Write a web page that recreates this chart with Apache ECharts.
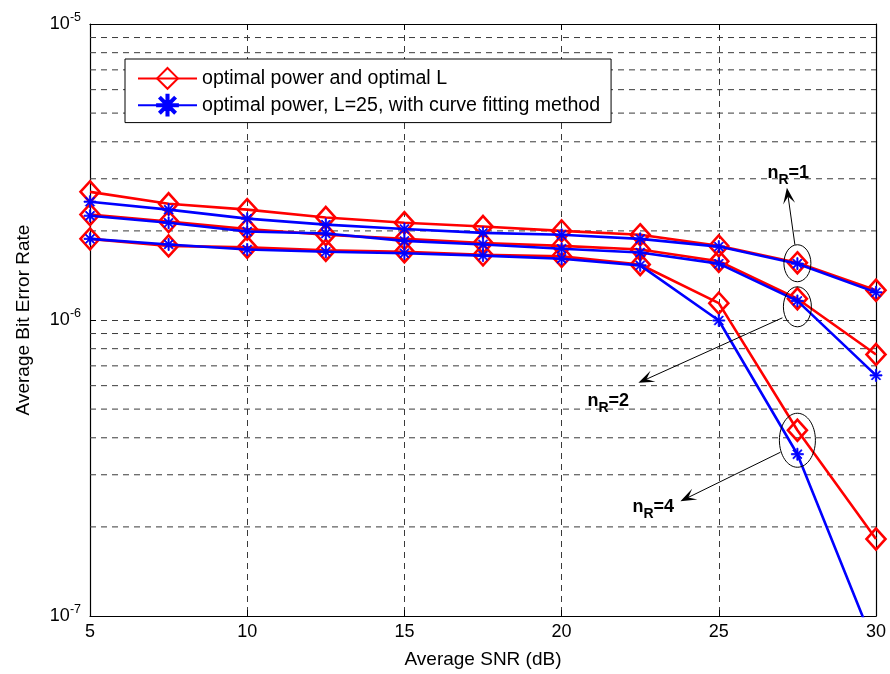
<!DOCTYPE html>
<html><head><meta charset="utf-8">
<script src="https://cdn.jsdelivr.net/npm/echarts@6/dist/echarts.min.js"></script>
<style>html,body{margin:0;padding:0;background:#fff}#c{width:890px;height:674px}</style>
</head><body><div id="c"></div>
<script>
// ---- data ----
const snr = [5, 7.5, 10, 12.5, 15, 17.5, 20, 22.5, 25, 27.5, 30];
const redN1  = [2.71e-6, 2.47e-6, 2.36e-6, 2.22e-6, 2.13e-6, 2.07e-6, 2.00e-6, 1.94e-6, 1.78e-6, 1.56e-6, 1.26e-6];
const blueN1 = [2.51e-6, 2.36e-6, 2.20e-6, 2.10e-6, 2.03e-6, 1.97e-6, 1.94e-6, 1.88e-6, 1.77e-6, 1.55e-6, 1.24e-6];
const redN2  = [2.27e-6, 2.15e-6, 2.03e-6, 1.94e-6, 1.88e-6, 1.82e-6, 1.78e-6, 1.73e-6, 1.58e-6, 1.18e-6, 7.65e-7];
const blueN2 = [2.25e-6, 2.13e-6, 1.99e-6, 1.96e-6, 1.85e-6, 1.80e-6, 1.74e-6, 1.69e-6, 1.55e-6, 1.16e-6, 6.50e-7];
const redN4  = [1.88e-6, 1.78e-6, 1.76e-6, 1.72e-6, 1.70e-6, 1.66e-6, 1.64e-6, 1.54e-6, 1.14e-6, 4.24e-7, 1.82e-7];
const blueN4 = [1.88e-6, 1.80e-6, 1.73e-6, 1.70e-6, 1.68e-6, 1.65e-6, 1.61e-6, 1.53e-6, 9.96e-7, 3.52e-7, 7.7e-8];
const yMinorGrid = [2e-7,3e-7,4e-7,5e-7,6e-7,7e-7,8e-7,9e-7,2e-6,3e-6,4e-6,5e-6,6e-6,7e-6,8e-6,9e-6];
const xRange = [5, 30];
const nameRed = 'optimal power and optimal L';
const nameBlue = 'optimal power, L=25, with curve fitting method';
const nrLabels = ['1', '2', '4'];

// ---- chart ----
const FONT = 'Liberation Sans, Arial, Helvetica, sans-serif';
const chart = echarts.init(document.getElementById('c'), null, {renderer: 'canvas'});
const pairs = arr => snr.map((x, i) => [x, arr[i]]);
const asterisk = 'path://M9 0L11 0L11 20L9 20Z M0 9L20 9L20 11L0 11Z M3.6 2.2L17.8 16.4L16.4 17.8L2.2 3.6Z M16.4 2.2L17.8 3.6L3.6 17.8L2.2 16.4Z';
const gridDash = {type: [6, 5], color: '#3a3a3a', width: 1};

function redSeries(arr) {
  return {
    name: nameRed, type: 'line', data: pairs(arr), clip: true,
    symbol: 'diamond', symbolSize: [19, 21],
    lineStyle: {color: '#ff0000', width: 2.6},
    itemStyle: {color: 'rgba(255,0,0,0)', borderColor: '#ff0000', borderWidth: 2.6},
    emphasis: {disabled: true}, z: 3
  };
}
function blueSeries(arr) {
  return {
    name: nameBlue, type: 'line', data: pairs(arr), clip: true,
    symbol: asterisk, symbolSize: 12,
    lineStyle: {color: '#0000ff', width: 2.6},
    itemStyle: {color: '#0000ff', borderColor: '#0000ff', borderWidth: 0.8},
    emphasis: {disabled: true}, z: 4
  };
}
const minorGridSeries = yMinorGrid.map(v => ({
  name: 'minor-grid', type: 'line', silent: true, symbol: 'none', z: 1,
  data: xRange.map(x => [x, v]), lineStyle: gridDash, emphasis: {disabled: true}, tooltip: {show: false}
}));
const supLabel = v => {
  const e = Math.round(Math.log10(v));
  return '{b|10}{s|' + e + '}';
};

const option = {
  animation: false,
  backgroundColor: '#fff',
  grid: {left: 90, right: 14, top: 24, bottom: 57, containLabel: false},
  legend: {
    data: [nameRed, nameBlue], orient: 'vertical', left: 125, top: 59,
    backgroundColor: '#fff', borderColor: '#000', borderWidth: 1,
    padding: [8, 11, 6, 12], itemWidth: 59, itemHeight: 26, itemGap: 4,
    textStyle: {fontSize: 19.6, fontFamily: FONT, color: '#000'},
    selectedMode: false, z: 10
  },
  xAxis: [{
    type: 'value', min: xRange[0], max: xRange[1], interval: 5,
    name: 'Average SNR (dB)', nameLocation: 'middle', nameGap: 34,
    nameTextStyle: {fontSize: 19, fontFamily: FONT, color: '#000'},
    axisLine: {lineStyle: {color: '#000', width: 1.2}},
    axisTick: {inside: true, length: 6, lineStyle: {color: '#000'}},
    axisLabel: {fontSize: 18, fontFamily: FONT, color: '#000', margin: 7},
    splitLine: {show: true, lineStyle: gridDash}
  }, {
    type: 'value', min: xRange[0], max: xRange[1], interval: 5, position: 'top',
    axisLine: {show: true, lineStyle: {color: '#000', width: 1.2}},
    axisTick: {inside: true, length: 6, lineStyle: {color: '#000'}},
    axisLabel: {show: false}, splitLine: {show: false}
  }],
  yAxis: [{
    type: 'log', logBase: 10, min: 1e-7, max: 1e-5,
    name: 'Average Bit Error Rate', nameLocation: 'middle', nameGap: 57,
    nameTextStyle: {fontSize: 19, fontFamily: FONT, color: '#000'},
    axisLine: {show: true, lineStyle: {color: '#000', width: 1.2}},
    axisTick: {inside: true, length: 6, lineStyle: {color: '#000'}},
    axisLabel: {
      formatter: supLabel, margin: 9,
      rich: {
        b: {fontSize: 18, fontFamily: FONT, color: '#000'},
        s: {fontSize: 12.5, fontFamily: FONT, color: '#000', padding: [0, 0, 12, 0]}
      }
    },
    splitLine: {show: true, lineStyle: gridDash}
  }, {
    type: 'log', logBase: 10, min: 1e-7, max: 1e-5, position: 'right',
    axisLine: {show: true, lineStyle: {color: '#000', width: 1.2}},
    axisTick: {inside: true, length: 6, lineStyle: {color: '#000'}},
    axisLabel: {show: false}, splitLine: {show: false}
  }],
  series: minorGridSeries.concat([
    redSeries(redN1), redSeries(redN2), redSeries(redN4),
    blueSeries(blueN1), blueSeries(blueN2), blueSeries(blueN4)
  ])
};
chart.setOption(option);

// ---- annotations (ellipses, arrows, n_R labels), placed from data points ----
const groups = [[redN1, blueN1], [redN2, blueN2], [redN4, blueN4]];
const annot = [
  {dy: 0,  rx: 13.5, ry: 18.5, start: [-2.5, -18.5], tip: [-10.5, -75.5], text: [-30, -104]},
  {dy: 7,  rx: 14,   ry: 20,   start: [-15, 11],     tip: [-159, 76],    text: [-210, 80]},
  {dy: -2, rx: 18,   ry: 27,   start: [-17, 12],     tip: [-117, 61],    text: [-165, 53]}
];
const gfx = [];
const idx = snr.indexOf(27.5);
annot.forEach((a, k) => {
  const p1 = chart.convertToPixel({xAxisIndex: 0, yAxisIndex: 0}, [snr[idx], groups[k][0][idx]]);
  const p2 = chart.convertToPixel({xAxisIndex: 0, yAxisIndex: 0}, [snr[idx], groups[k][1][idx]]);
  const cx = (p1[0] + p2[0]) / 2, cy = (p1[1] + p2[1]) / 2 + a.dy;
  gfx.push({type: 'ellipse', shape: {cx: cx, cy: cy, rx: a.rx, ry: a.ry},
    style: {fill: 'none', stroke: '#000', lineWidth: 1}, z: 100, silent: true});
  const sx = cx + a.start[0], sy = cy + a.start[1];
  const tx = cx + a.tip[0], ty = cy + a.tip[1];
  const L = Math.hypot(tx - sx, ty - sy);
  const dx = (tx - sx) / L, dyy = (ty - sy) / L;
  const nx = -dyy, ny = dx;
  const HL = 16, HW = 6;
  gfx.push({type: 'line', shape: {x1: sx, y1: sy, x2: tx - dx * 8, y2: ty - dyy * 8},
    style: {stroke: '#000', lineWidth: 1}, z: 100, silent: true});
  gfx.push({type: 'polygon', shape: {points: [
      [tx, ty],
      [tx - HL * dx + HW * nx, ty - HL * dyy + HW * ny],
      [tx - 0.55 * HL * dx, ty - 0.55 * HL * dyy],
      [tx - HL * dx - HW * nx, ty - HL * dyy - HW * ny]
    ]}, style: {fill: '#000'}, z: 100, silent: true});
  gfx.push({type: 'text', x: cx + a.text[0], y: cy + a.text[1], z: 100, silent: true,
    style: {
      text: '{a|n}{r|R}{a|=' + nrLabels[k] + '}',
      rich: {
        a: {fontSize: 18, fontWeight: 'bold', fontFamily: FONT, fill: '#000'},
        r: {fontSize: 14, fontWeight: 'bold', fontFamily: FONT, fill: '#000', padding: [14, 0, 0, 0]}
      }
    }});
});
chart.setOption({graphic: gfx});
</script>
</body></html>
